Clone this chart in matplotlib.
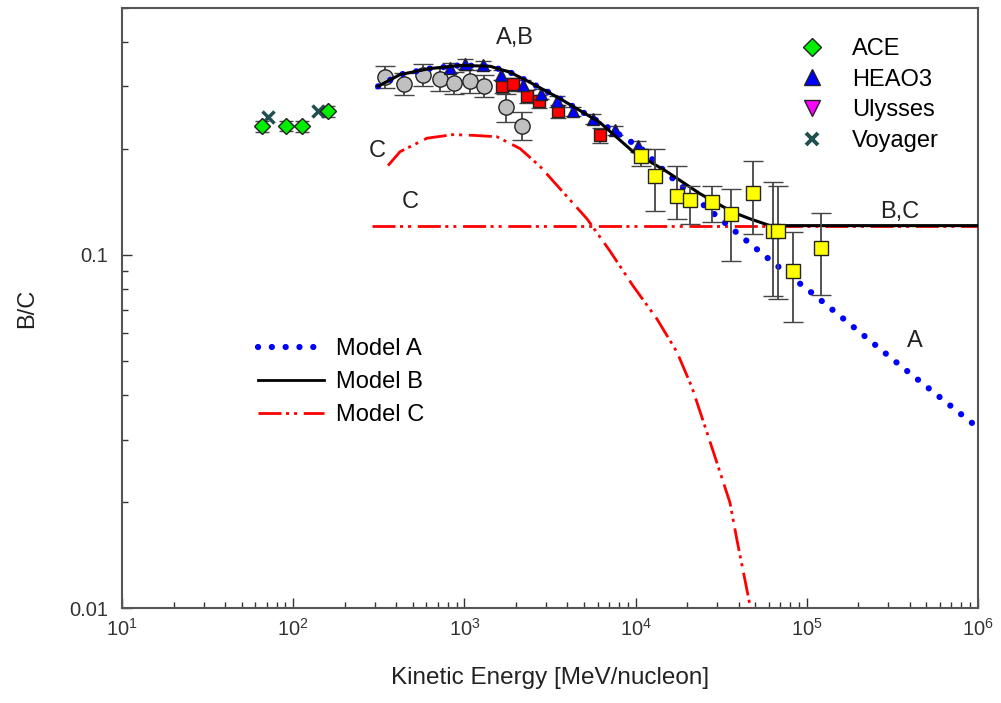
import matplotlib.pyplot as plt
from matplotlib.lines import Line2D
from matplotlib.ticker import FixedLocator, FuncFormatter, LogLocator, NullFormatter

plt.rcParams["font.family"] = ["Liberation Sans", "DejaVu Sans"]
plt.rcParams["mathtext.fontset"] = "custom"
plt.rcParams["mathtext.rm"] = "Liberation Sans"

# --- measurements -----------------------------------------------------------
ace_e = [66, 91, 112, 160]
ace_r = [0.231, 0.232, 0.231, 0.255]
ace_lo = [0.223, 0.224, 0.223, 0.246]
ace_hi = [0.239, 0.240, 0.239, 0.264]

voy_e = [71, 140]
voy_r = [0.246, 0.255]

heao_e = [824, 1009, 1286, 1637, 2199, 2801, 3473, 4309, 5634, 7580, 10330]
heao_r = [0.338, 0.347, 0.344, 0.323, 0.302, 0.286, 0.272, 0.255, 0.243, 0.225, 0.203]
heao_lo = [0.327, 0.336, 0.333, 0.313, 0.292, 0.277, 0.263, 0.247, 0.235, 0.218, 0.196]
heao_hi = [0.349, 0.358, 0.355, 0.333, 0.312, 0.295, 0.281, 0.263, 0.251, 0.232, 0.210]

gray_e = [344, 444, 573, 720, 869, 1079, 1301, 1749, 2168]
gray_r = [0.318, 0.304, 0.323, 0.314, 0.306, 0.310, 0.300, 0.263, 0.232]
gray_lo = [0.296, 0.283, 0.300, 0.292, 0.285, 0.288, 0.279, 0.238, 0.212]
gray_hi = [0.342, 0.327, 0.347, 0.338, 0.329, 0.333, 0.323, 0.285, 0.253]

red_e = [1660, 1923, 2322, 2729, 3524, 6194]
red_r = [0.300, 0.304, 0.281, 0.272, 0.255, 0.218]
red_lo = [0.287, 0.291, 0.269, 0.260, 0.244, 0.208]
red_hi = [0.313, 0.317, 0.293, 0.284, 0.266, 0.228]

yel_e = [10760, 12980, 17450, 20800, 27940, 36070, 48520, 63530, 67940, 83060, 120990]
yel_r = [0.191, 0.167, 0.147, 0.143, 0.1415, 0.1306, 0.150, 0.117, 0.117, 0.0901, 0.1047]
yel_lo = [0.178, 0.1334, 0.1265, 0.1225, 0.124, 0.0962, 0.1147, 0.0765, 0.075, 0.0645, 0.0769]
yel_hi = [0.200, 0.200, 0.178, 0.157, 0.157, 0.154, 0.185, 0.161, 0.157, 0.116, 0.1316]

# --- models -----------------------------------------------------------------
modelB_e = [313, 421, 630, 942, 1413, 1845, 2415, 3614, 6194, 9661, 15240,
            23770, 37070, 46560, 60950, 1e6]
modelB_r = [0.300, 0.324, 0.337, 0.344, 0.342, 0.329, 0.308, 0.277, 0.237,
            0.196, 0.172, 0.149, 0.132, 0.1265, 0.121, 0.121]

modelA_e = [313, 421, 630, 942, 1413, 1845, 2415, 3614, 6194, 10620, 15240,
            24430, 39630, 65160, 107200, 178600, 349900, 599800, 1e6]
modelA_r = [0.300, 0.324, 0.337, 0.344, 0.342, 0.329, 0.308, 0.277, 0.237,
            0.2014, 0.170, 0.1396, 0.1148, 0.0942, 0.0780, 0.0637, 0.0487,
            0.0395, 0.0324]

modelC1_e = [358, 421, 605, 857, 1122, 1549, 2113, 2767, 3614, 5200, 7079,
             9661, 13340, 17460, 21330, 25410, 29850, 35560, 39080, 43550, 47500]
modelC1_r = [0.179, 0.196, 0.214, 0.219, 0.218, 0.216, 0.200, 0.178, 0.154,
             0.1265, 0.1026, 0.0817, 0.0658, 0.0530, 0.0422, 0.0327, 0.0258,
             0.0199, 0.0156, 0.0120, 0.0097]

modelC2_e = [290, 1e6]
modelC2_r = [0.121, 0.121]

fig = plt.figure(figsize=(10.01, 7.03), dpi=100)
ax = fig.add_axes([0.1219, 0.1351, 0.8551, 0.8535])
ax.set_xscale("log")
ax.set_yscale("log")
ax.set_xlim(10, 1e6)
ax.set_ylim(0.01, 0.5)

ebar_col = "#444444"
c_dash = (8.3, 1.6, 1.1, 1.8, 1.1, 2.4)
a_dots = (0, (0.01, 2.2))


def ebar(e, r, lo, hi, **kw):
    yerr = [[v - l for v, l in zip(r, lo)], [h - v for v, h in zip(r, hi)]]
    ax.errorbar(e, r, yerr=yerr, ls="none", ecolor=ebar_col, elinewidth=1.3,
                capthick=1.3, mec="#222222", mew=1.0, **kw)


ebar(gray_e, gray_r, gray_lo, gray_hi, fmt="o", ms=11, mfc="#c0c0c0",
     capsize=7, zorder=2)
ebar(red_e, red_r, red_lo, red_hi, fmt="s", ms=9, mfc="#ff0000",
     capsize=6, zorder=2)
ebar(heao_e, heao_r, heao_lo, heao_hi, fmt="^", ms=8, mfc="#0000ff",
     capsize=6, zorder=2)
ebar(ace_e, ace_r, ace_lo, ace_hi, fmt="D", ms=8, mfc="#00ee00",
     capsize=5, zorder=3)
ax.plot(voy_e, voy_r, ls="none", marker="x", ms=8, mew=2.5, color="#1f4f4f",
        zorder=3)

ax.plot(modelC2_e, modelC2_r, color="#ff0000", lw=2, dashes=c_dash, zorder=4)
ax.plot(modelC1_e, modelC1_r, color="#ff0000", lw=2, dashes=c_dash, zorder=4)
ax.plot(modelA_e, modelA_r, color="#0000ff", lw=4.5, ls=a_dots,
        dash_capstyle="round", zorder=4)
ax.plot(modelB_e, modelB_r, color="black", lw=2.2, zorder=5)

ebar(yel_e, yel_r, yel_lo, yel_hi, fmt="s", ms=10, mfc="#ffff00",
     capsize=7, zorder=6)

# curve labels
lab = dict(fontsize=17, ha="center", va="center", color="#222222")
ax.text(1977, 0.411, "A,B", **lab)
ax.text(308, 0.197, "C", **lab)
ax.text(481, 0.1415, "C", **lab)
ax.text(3.5e5, 0.132, "B,C", **lab)
ax.text(4.3e5, 0.057, "A", **lab)

# legends
data_handles = [
    Line2D([], [], ls="none", marker="D", ms=9, mfc="#00ee00", mec="#222222"),
    Line2D([], [], ls="none", marker="^", ms=11, mfc="#0000ff", mec="#222222"),
    Line2D([], [], ls="none", marker="v", ms=11, mfc="#ff00ff", mec="#222222"),
    Line2D([], [], ls="none", marker="x", ms=8, mew=2.8, color="#1f4f4f"),
]
leg1 = ax.legend(data_handles, ["ACE", "HEAO3", "Ulysses", "Voyager"],
                 loc="upper left", bbox_to_anchor=(800 / 1001, 1 - 38 / 703),
                 bbox_transform=fig.transFigure, frameon=False, fontsize=17,
                 borderpad=0, borderaxespad=0, handlelength=1.0,
                 handletextpad=1.2, labelspacing=0.37)
ax.add_artist(leg1)

model_handles = [
    Line2D([], [], color="#0000ff", lw=4.5, ls=a_dots, dash_capstyle="round"),
    Line2D([], [], color="black", lw=2),
    Line2D([], [], color="#ff0000", lw=2, dashes=c_dash),
]
ax.legend(model_handles, ["Model A", "Model B", "Model C"],
          loc="upper left", bbox_to_anchor=(258 / 1001, 1 - 338 / 703),
          bbox_transform=fig.transFigure, frameon=False, fontsize=17,
          borderpad=0, borderaxespad=0, handlelength=2.8,
          handletextpad=0.5, labelspacing=0.47)

# axes styling
for s in ax.spines.values():
    s.set_color("#555555")
    s.set_linewidth(1.5)
ax.tick_params(which="both", direction="in", top=False, right=False,
               colors="#333333", labelsize=14.5, width=1)
ax.tick_params(which="major", length=7)
ax.tick_params(which="minor", length=4)
ax.tick_params(axis="y", which="major", pad=10)
ax.tick_params(axis="x", which="major", pad=7)
ax.xaxis.set_major_locator(LogLocator(base=10, numticks=10))
ax.xaxis.set_minor_locator(LogLocator(base=10, subs=range(2, 10), numticks=20))
ax.xaxis.set_minor_formatter(NullFormatter())
ax.yaxis.set_major_locator(FixedLocator([0.01, 0.1]))
ax.yaxis.set_major_formatter(FuncFormatter(lambda v, p: "%g" % v))
ax.yaxis.set_minor_locator(LogLocator(base=10, subs=range(2, 10), numticks=20))
ax.yaxis.set_minor_formatter(NullFormatter())

ax.set_xlabel("Kinetic Energy [MeV/nucleon]", fontsize=17.5, labelpad=20,
              color="#222222")
ax.set_ylabel("B/C", fontsize=17, labelpad=22, color="#222222")

fig.savefig("out.png", dpi=100)
